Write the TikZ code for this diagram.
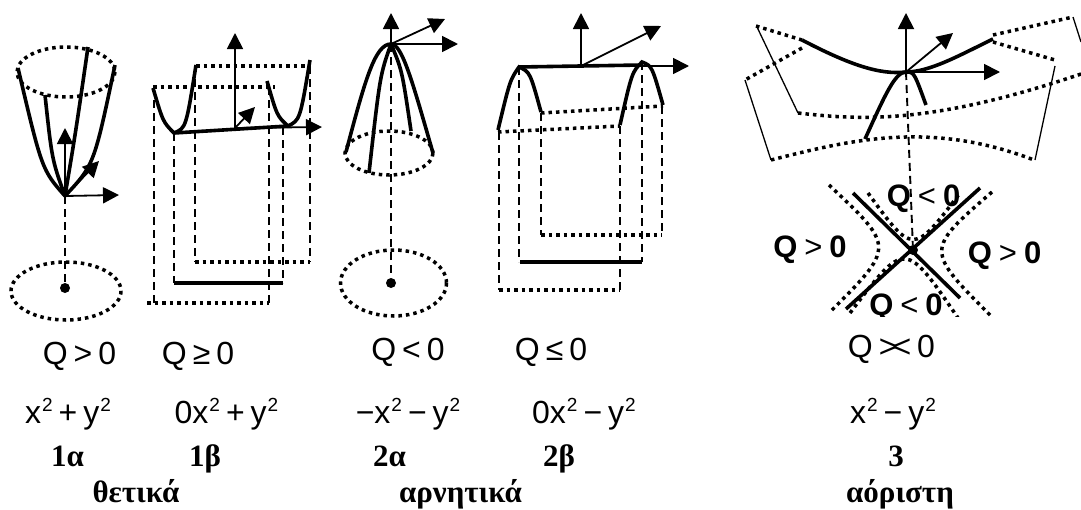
\documentclass[tikz,border=0pt]{standalone}
\usepackage{fontspec}
\setmainfont{Liberation Serif}
\setsansfont{Liberation Sans}
\usetikzlibrary{arrows.meta}
\newcommand{\sqtwo}{\kern1pt\raisebox{11.5pt}{\fontsize{19}{19}\selectfont 2}}
\newcommand{\gapsign}[1]{\kern6pt#1\kern6pt}
\newcommand{\boldsign}[1]{\kern7pt{\mdseries #1}\kern7pt}
\tikzset{
  axis/.style={line width=1.8pt, -{Triangle[width=16pt,length=16pt]}},
  curvethick/.style={line width=3.6pt},
  linethin/.style={line width=1.3pt},
  dots/.style={line width=3.5pt, dash pattern=on 3.5pt off 4pt},
  dashes/.style={line width=1.9pt, dash pattern=on 8pt off 5pt},
  spot/.style={circle, fill=black, inner sep=0pt, minimum size=10pt},
  formula/.style={font=\fontsize{32}{32}\selectfont\sffamily, inner sep=0pt, anchor=base},
  signlabel/.style={font=\fontsize{31}{31}\selectfont\sffamily\bfseries, inner sep=0pt, anchor=base},
  caption/.style={font=\fontsize{31}{31}\selectfont\bfseries, inner sep=0pt, anchor=base}
}
\begin{document}
\begin{tikzpicture}[x=1pt,y=-1pt]
\useasboundingbox (0,0) rectangle (1081,509);

% 1a
\coordinate (o1) at (65,196);
\coordinate (z1) at (65,128);
\coordinate (x1) at (119,195);
\coordinate (y1) at (99,161);
\node[spot] (p1) at (65,288) {};
\draw[dots] (66,72) ellipse (49 and 25);
\draw[dots] (66,291) ellipse (55 and 29);
\draw[curvethick] (18,68) .. controls (42,170) .. (o1);
\draw[curvethick] (115,65) .. controls (94,165) .. (o1);
\draw[curvethick] (45,95) .. controls (52,160) .. (o1);
\draw[curvethick] (88,47) .. controls (76,130) .. (o1);
\draw[axis] (o1) -- (z1);
\draw[axis] (o1) -- (x1);
\draw[axis] (o1) -- (y1);
\draw[dashes] (o1) -- (p1);

% 1b
\coordinate (o2) at (235,128);
\coordinate (z2) at (235,33);
\coordinate (x2) at (322,127);
\coordinate (y2) at (255,107);
\draw[dots] (196,66) -- (310,66);
\draw[dots] (153,87) -- (275,87);
\draw[dashes] (154,87) -- (154,303);
\draw[dashes] (174,133) -- (174,283);
\draw[dashes] (195,66) -- (195,262);
\draw[dashes] (269,87) -- (269,303);
\draw[dashes] (283,127) -- (283,283);
\draw[dashes] (310,66) -- (310,262);
\draw[dots] (195,262) -- (310,262);
\draw[curvethick] (174,283) -- (283,283);
\draw[dots] (147,303) -- (269,303);
\draw[axis] (o2) -- (z2);
\draw[axis] (o2) -- (x2);
\draw[axis] (o2) -- (y2);
\draw[curvethick] (174,133) -- (288,126);
\draw[curvethick] (153,88) .. controls (163,122) .. (174,133) .. controls (186,128) .. (196,65);
\draw[curvethick] (267,81) .. controls (277,116) .. (288,126) .. controls (300,120) .. (310,60);

% 2a
\coordinate (o3) at (391,44);
\coordinate (z3) at (391,13);
\coordinate (x3) at (458,44);
\coordinate (y3) at (445,19);
\node[spot] (p3) at (391,283) {};
\draw[dots] (389,153) ellipse (44 and 22);
\draw[dots] (393.5,283) ellipse (53 and 33);
\draw[curvethick] (346,152) .. controls (365,80) and (375,44) .. (o3);
\draw[curvethick] (433,153) .. controls (412,80) and (402,44) .. (o3);
\draw[curvethick] (369,173) .. controls (380,75) .. (o3);
\draw[curvethick] (411,131) .. controls (402,70) .. (o3);
\draw[axis] (o3) -- (z3);
\draw[axis] (o3) -- (x3);
\draw[axis] (o3) -- (y3);
\draw[dashes] (o3) -- (p3);

% 2b
\coordinate (o4) at (581,66);
\coordinate (z4) at (581,13);
\coordinate (x4) at (689,66);
\coordinate (y4) at (661,26);
\draw[dots] (541,113) -- (663,106);
\draw[dots] (498,132) -- (620,126);
\draw[dashes] (499,132) -- (499,290);
\draw[dashes] (519,67) -- (519,262);
\draw[dashes] (541,113) -- (541,235);
\draw[dashes] (620,126) -- (620,290);
\draw[dashes] (642,62) -- (642,262);
\draw[dashes] (662,106) -- (662,235);
\draw[dots] (541,235) -- (662,235);
\draw[curvethick] (520,262) -- (642,262);
\draw[dots] (499,290) -- (620,290);
\draw[axis] (o4) -- (z4);
\draw[axis] (o4) -- (x4);
\draw[axis] (o4) -- (y4);
\draw[curvethick] (519,67) -- (642,65);
\draw[curvethick] (498,130) .. controls (510,80) .. (519,67) .. controls (530,72) .. (541,112);
\draw[curvethick] (620,125) .. controls (632,72) .. (642,62) .. controls (652,66) .. (663,105);

% 3
\coordinate (o5) at (906,72);
\coordinate (z5) at (906,13);
\coordinate (x5) at (1000,72);
\coordinate (y5) at (953,33);
\node[spot] (p5) at (913,250) {};
\draw[dots] (756,26) -- (802,40);
\draw[dots] (802,48) -- (745,80);
\draw[linethin] (757,27) -- (798,113);
\draw[linethin] (745,80) -- (771,160);
\draw[dots] (798,113) .. controls (860,120) and (930,125) .. (1081,74);
\draw[dots] (771,160) .. controls (850,140) and (930,120) .. (1034,160);
\draw[linethin] (1035,160) -- (1055,66);
\draw[dots] (993,42) -- (1055,60);
\draw[dots] (993,35) -- (1073,17);
\draw[linethin] (1073,17) -- (1081,42);
\draw[axis] (o5) -- (z5);
\draw[axis] (o5) -- (x5);
\draw[axis] (o5) -- (y5);
\draw[curvethick] (802,40) .. controls (850,65) and (880,75) .. (o5) .. controls (930,72) and (960,55) .. (993,39);
\draw[curvethick] (865,139) .. controls (885,95) and (895,72) .. (o5) .. controls (914,72) .. (926,105);
\draw[dashes] (o5) -- (p5);
\begin{scope}
\clip (800,170) rectangle (1081,316);
\draw[curvethick] (853,193) -- (960,298);
\draw[curvethick] (980,188) -- (846,309);
\draw[dots] (829,185) .. controls (895,247) .. (830,312);
\draw[dots] (992,192) .. controls (925,250) .. (992,317);
\draw[dots] (868,193) .. controls (913,255) .. (960,193);
\draw[dots] (850,313) .. controls (905,240) .. (958,318);
\node[signlabel] (qtop) at (923.5,206) {Q\boldsign{<}0};
\node[signlabel] (qbottom) at (906,315) {Q\boldsign{<}0};
\end{scope}
\node[signlabel] (qleft) at (810,257) {Q\boldsign{>}0};
\node[signlabel] (qright) at (1004.5,263) {Q\boldsign{>}0};

% labels
\node[formula] (q1) at (79.5,364) {Q\gapsign{>}0};
\node[formula] (q2) at (198,364) {Q\gapsign{≥}0};
\node[formula] (q3) at (408,360) {Q\gapsign{<}0};
\node[formula] (q4) at (551,360) {Q\gapsign{≤}0};
\node[formula] (q5) at (891.5,357) {Q\gapsign{>\kern-5pt<}0};
\node[formula] (f1) at (68,423) {x\sqtwo\gapsign{+}y\sqtwo};
\node[formula] (f2) at (226.5,423) {0x\sqtwo\gapsign{+}y\sqtwo};
\node[formula] (f3) at (408,423) {−x\sqtwo\gapsign{−}y\sqtwo};
\node[formula] (f4) at (584,423) {0x\sqtwo\gapsign{−}y\sqtwo};
\node[formula] (f5) at (893,423) {x\sqtwo\gapsign{−}y\sqtwo};
\node[caption] (c1) at (67.5,466) {1α};
\node[caption] (c2) at (205,466) {1β};
\node[caption] (c3) at (389.5,466) {2α};
\node[caption] (c4) at (559,466) {2β};
\node[caption] (c5) at (896,466) {3};
\node[caption] (t1) at (136,502) {θετικά};
\node[caption] (t2) at (460.5,502) {αρνητικά};
\node[caption] (t3) at (900,502) {αόριστη};
\end{tikzpicture}
\end{document}
